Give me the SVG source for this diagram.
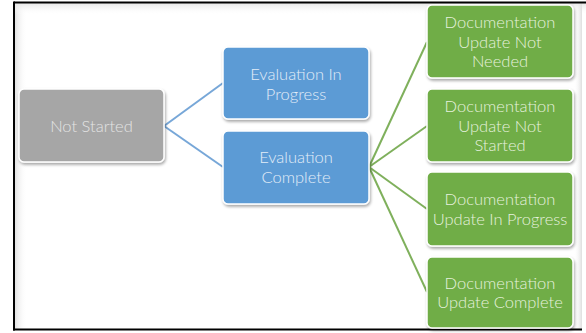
<svg xmlns="http://www.w3.org/2000/svg" width="586" height="333" viewBox="0 0 586 333">
  <defs>
    <filter id="sh" x="-10%" y="-10%" width="125%" height="130%">
      <feGaussianBlur in="SourceAlpha" stdDeviation="1.5"/>
      <feOffset dx="1" dy="2" result="b"/>
      <feComponentTransfer><feFuncA type="linear" slope="0.35"/></feComponentTransfer>
      <feMerge><feMergeNode/><feMergeNode in="SourceGraphic"/></feMerge>
    </filter>
    <linearGradient id="lg" x1="0" y1="0" x2="1" y2="0">
      <stop offset="0" stop-color="#e2e2e2"/>
      <stop offset="1" stop-color="#ffffff" stop-opacity="0"/>
    </linearGradient>
    <linearGradient id="tg" x1="0" y1="0" x2="0" y2="1">
      <stop offset="0" stop-color="#e6e6e6"/>
      <stop offset="1" stop-color="#ffffff" stop-opacity="0"/>
    </linearGradient>
    <linearGradient id="rg" x1="0" y1="0" x2="1" y2="0">
      <stop offset="0" stop-color="#ffffff" stop-opacity="0"/>
      <stop offset="1" stop-color="#dedede"/>
    </linearGradient>
  </defs>
  <style>
    .box { stroke: #ffffff; stroke-width: 1.5; filter: url(#sh); }
    .gray { fill: #a6a6a6; }
    .blue { fill: #5b9bd5; }
    .green { fill: #70ad47; }
    text { font-family: "Lato", "Open Sans", sans-serif; font-size: 16.5px; font-weight: 300; text-anchor: middle; dominant-baseline: central; }
    .tg { fill: #e4e4e4; }
    .tb { fill: #e3edf8; }
    .tn { fill: #e6f1de; }
    .cb { stroke: #77a7d8; stroke-width: 2; fill: none; }
    .cn { stroke: #7fb05c; stroke-width: 2; fill: none; }
  </style>
  <rect x="0" y="0" width="586" height="333" fill="#ffffff"/>
  <rect x="15" y="3" width="12" height="326" fill="url(#lg)"/>
  <rect x="15" y="3" width="571" height="12" fill="url(#tg)"/>
  <rect x="574" y="3" width="8" height="326" fill="url(#rg)"/>
  <line x1="14" y1="2.5" x2="586" y2="2.5" stroke="#000" stroke-width="2"/>
  <line x1="14" y1="1.5" x2="14" y2="330.5" stroke="#000" stroke-width="2"/>
  <line x1="13" y1="329.5" x2="582" y2="329.5" stroke="#000" stroke-width="2"/>

  <g id="connectors">
    <path class="cb" d="M164,126 L223,83"/>
    <path class="cb" d="M164,126 L223,167"/>
    <path class="cn" d="M369,167 L427,42"/>
    <path class="cn" d="M369,167 L427,126"/>
    <path class="cn" d="M369,167 L427,209"/>
    <path class="cn" d="M369,167 L427,292"/>
  </g>

  <g id="not-started">
    <rect class="box gray" x="19" y="89" width="145" height="73" rx="5"/>
    <text class="tg" x="91.5" y="126">Not Started</text>
  </g>
  <g id="eval-in-progress">
    <rect class="box blue" x="223" y="47" width="146" height="72" rx="5"/>
    <text class="tb" x="296" y="74">Evaluation In</text>
    <text class="tb" x="296" y="94">Progress</text>
  </g>
  <g id="eval-complete">
    <rect class="box blue" x="223" y="131" width="146" height="73" rx="5"/>
    <text class="tb" x="296" y="157">Evaluation</text>
    <text class="tb" x="296" y="177">Complete</text>
  </g>
  <g id="doc-not-needed">
    <rect class="box green" x="427" y="5" width="146" height="73" rx="5"/>
    <text class="tn" x="500" y="22">Documentation</text>
    <text class="tn" x="500" y="42">Update Not</text>
    <text class="tn" x="500" y="61">Needed</text>
  </g>
  <g id="doc-not-started">
    <rect class="box green" x="427" y="89" width="146" height="73" rx="5"/>
    <text class="tn" x="500" y="106">Documentation</text>
    <text class="tn" x="500" y="126">Update Not</text>
    <text class="tn" x="500" y="145">Started</text>
  </g>
  <g id="doc-in-progress">
    <rect class="box green" x="427" y="172" width="146" height="74" rx="5"/>
    <text class="tn" x="500" y="199">Documentation</text>
    <text class="tn" x="500" y="219">Update In Progress</text>
  </g>
  <g id="doc-complete">
    <rect class="box green" x="427" y="257" width="146" height="71" rx="5"/>
    <text class="tn" x="500" y="283">Documentation</text>
    <text class="tn" x="500" y="302">Update Complete</text>
  </g>
</svg>
